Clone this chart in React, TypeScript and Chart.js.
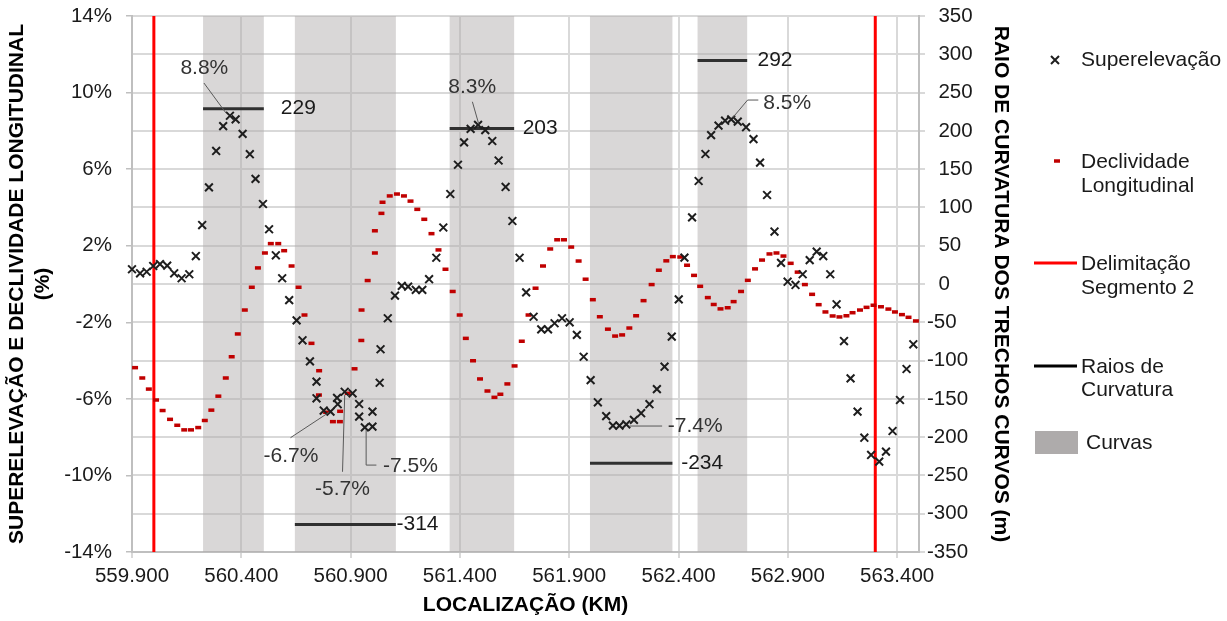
import React, { useEffect, useRef } from "react";
import { Chart, registerables } from "chart.js";

Chart.register(...registerables);

const FONT = '"Liberation Sans", Arial, Helvetica, sans-serif';

// ---------- axes ----------
const xTicks = [559.9, 560.4, 560.9, 561.4, 561.9, 562.4, 562.9, 563.4];
const leftTicks = [-14, -10, -6, -2, 2, 6, 10, 14];

// ---------- Superelevação (%) ----------
const superKm = [
  559.900, 559.937, 559.967, 559.997, 560.028, 560.061, 560.093, 560.127, 560.162, 560.192,
  560.221, 560.252, 560.285, 560.317, 560.348, 560.374, 560.406, 560.439, 560.465, 560.499,
  560.527, 560.558, 560.587, 560.619, 560.653, 560.680, 560.714, 560.744, 560.744, 560.777,
  560.808, 560.838, 560.841, 560.873, 560.909, 560.939, 560.939, 560.965, 561.000, 561.000,
  561.033, 561.037, 561.070, 561.103, 561.134, 561.163, 561.198, 561.228, 561.259, 561.292,
  561.324, 561.356, 561.391, 561.419, 561.449, 561.483, 561.516, 561.548, 561.577, 561.609,
  561.640, 561.673, 561.703, 561.737, 561.772, 561.803, 561.833, 561.867, 561.902, 561.935,
  561.966, 561.998, 562.031, 562.069, 562.100, 562.130, 562.161, 562.196, 562.229, 562.267,
  562.301, 562.336, 562.369, 562.401, 562.427, 562.462, 562.492, 562.523, 562.549, 562.583,
  562.613, 562.641, 562.671, 562.709, 562.743, 562.773, 562.805, 562.839, 562.869, 562.899,
  562.935, 562.968, 563.000, 563.032, 563.062, 563.094, 563.123, 563.157, 563.187, 563.219,
  563.250, 563.281, 563.318, 563.349, 563.379, 563.413, 563.443, 563.474,
];
const superPct = [
  0.77, 0.56, 0.64, 0.94, 1.04, 0.96, 0.56, 0.30, 0.51, 1.46,
  3.08, 5.05, 6.95, 8.25, 8.79, 8.60, 7.84, 6.78, 5.49, 4.18,
  2.86, 1.50, 0.30, -0.84, -1.90, -2.94, -4.04, -5.10, -5.97, -6.61,
  -6.67, -5.95, -6.28, -5.63, -5.71, -6.27, -6.93, -7.49, -7.45, -6.67,
  -5.16, -3.41, -1.79, -0.61, -0.10, -0.14, -0.31, -0.31, 0.25, 1.37,
  2.95, 4.70, 6.23, 7.40, 8.10, 8.31, 8.04, 7.47, 6.45, 5.07,
  3.29, 1.37, -0.44, -1.71, -2.37, -2.37, -2.05, -1.79, -2.00, -2.66,
  -3.80, -5.02, -6.18, -6.90, -7.40, -7.40, -7.33, -7.10, -6.75, -6.28,
  -5.49, -4.32, -2.75, -0.80, 1.38, 3.48, 5.38, 6.79, 7.78, 8.27,
  8.53, 8.60, 8.48, 8.19, 7.57, 6.34, 4.65, 2.74, 1.10, 0.12,
  -0.05, 0.51, 1.25, 1.69, 1.46, 0.51, -1.06, -2.98, -4.93, -6.67,
  -8.03, -8.93, -9.28, -8.76, -7.68, -6.06, -4.44, -3.15,
];

// ---------- Declividade Longitudinal (%) ----------
const declKm = [
  559.914, 559.947, 559.977, 560.010, 560.040, 560.074, 560.107, 560.139, 560.170, 560.203,
  560.233, 560.263, 560.295, 560.329, 560.356, 560.384, 560.416, 560.448, 560.476, 560.508,
  560.535, 560.569, 560.596, 560.630, 560.662, 560.689, 560.721, 560.756, 560.755, 560.788,
  560.819, 560.851, 560.852, 560.887, 560.918, 560.949, 560.950, 560.978, 561.011, 561.011,
  561.041, 561.046, 561.079, 561.112, 561.144, 561.174, 561.205, 561.237, 561.270, 561.302,
  561.334, 561.367, 561.399, 561.427, 561.460, 561.492, 561.526, 561.558, 561.585, 561.617,
  561.650, 561.683, 561.714, 561.746, 561.780, 561.813, 561.845, 561.876, 561.909, 561.943,
  561.975, 562.008, 562.040, 562.077, 562.110, 562.142, 562.175, 562.206, 562.240, 562.277,
  562.310, 562.344, 562.374, 562.408, 562.439, 562.471, 562.499, 562.534, 562.561, 562.592,
  562.625, 562.652, 562.686, 562.717, 562.750, 562.782, 562.816, 562.848, 562.880, 562.913,
  562.945, 562.978, 563.011, 563.041, 563.072, 563.105, 563.136, 563.168, 563.196, 563.230,
  563.260, 563.292, 563.326, 563.360, 563.390, 563.422, 563.452, 563.486,
];
const declPct = [
  -4.37, -4.91, -5.49, -6.06, -6.61, -7.07, -7.38, -7.62, -7.62, -7.50,
  -7.13, -6.59, -5.86, -4.91, -3.80, -2.61, -1.36, -0.17, 0.84, 1.62,
  2.11, 2.11, 1.74, 0.94, -0.17, -1.62, -3.10, -4.53, -5.80, -6.70,
  -7.19, -7.19, -6.65, -5.71, -4.43, -2.95, -1.36, 0.18, 1.62, 2.78,
  3.69, 4.27, 4.60, 4.70, 4.60, 4.33, 3.90, 3.38, 2.63, 1.78,
  0.77, -0.39, -1.62, -2.84, -4.01, -4.96, -5.59, -5.92, -5.76, -5.22,
  -4.28, -2.99, -1.62, -0.22, 0.94, 1.83, 2.31, 2.31, 1.93, 1.20,
  0.25, -0.82, -1.71, -2.36, -2.72, -2.66, -2.30, -1.66, -0.87, -0.03,
  0.72, 1.21, 1.43, 1.41, 0.98, 0.45, -0.12, -0.71, -1.07, -1.30,
  -1.24, -0.92, -0.39, 0.19, 0.79, 1.25, 1.57, 1.62, 1.46, 1.08,
  0.62, -0.03, -0.54, -1.08, -1.46, -1.67, -1.72, -1.66, -1.50, -1.36,
  -1.22, -1.11, -1.19, -1.31, -1.46, -1.60, -1.74, -1.93,
];

// ---------- Delimitação Segmento 2 (km) ----------
const segmentLimits = [560.0, 563.3];

// ---------- Curvas & Raios de Curvatura ----------
const curveStart = [560.225, 560.645, 561.353, 561.995, 562.487];
const curveEnd = [560.503, 561.107, 561.648, 562.372, 562.714];
const curveRadius = [229, -314, 203, -234, 292];
const radiusLabelKm = [560.581, 561.110, 561.687, 562.412, 562.761];

// ---------- peak labels (data units: km, %) ----------
const peakText = ["8.8%", "8.3%", "8.5%", "-6.7%", "-5.7%", "-7.5%", "-7.4%"];
const peakTextKm = [560.231, 561.456, 562.788, 560.627, 560.863, 561.048, 562.351];
const peakTextPct = [11.28, 10.28, 9.44, -8.97, -10.72, -9.54, -7.45];
const peakAlign = ["center", "center", "left", "center", "center", "left", "left"];
const peakLeaders = [
  [[560.229, 10.5], [560.33, 8.93]],
  [[561.457, 9.52], [561.486, 8.36]],
  [[562.765, 9.61], [562.716, 9.61], [562.648, 8.69]],
  [[560.625, -8.03], [560.802, -6.7]],
  [[560.863, -9.81], [560.873, -5.8]],
  [[561.018, -9.46], [560.971, -9.46], [560.971, -7.63]],
  [[562.176, -7.42], [562.325, -7.42]],
];

const customPlugin = {
  id: "customDraw",
  beforeDatasetsDraw(chart: any) {
    const { ctx, chartArea: a, scales } = chart;
    const xs = scales.x;
    ctx.save();
    ctx.fillStyle = "rgba(174,171,171,0.47)";
    curveStart.forEach((s, i) => {
      const x0 = xs.getPixelForValue(s);
      const x1 = xs.getPixelForValue(curveEnd[i]);
      ctx.fillRect(x0, a.top, x1 - x0, a.bottom - a.top);
    });
    ctx.restore();
  },
  afterDraw(chart: any) {
    const { ctx, scales } = chart;
    const xs = scales.x;
    const ys = scales.y;
    const y2 = scales.y2;
    ctx.save();
    // leaders
    ctx.strokeStyle = "#595959";
    ctx.lineWidth = 1;
    peakLeaders.forEach((pts) => {
      ctx.beginPath();
      pts.forEach((p, j) => {
        const px = xs.getPixelForValue(p[0]);
        const py = ys.getPixelForValue(p[1]);
        if (j === 0) ctx.moveTo(px, py);
        else ctx.lineTo(px, py);
      });
      ctx.stroke();
    });
    // peak labels
    ctx.font = `21px ${FONT}`;
    ctx.fillStyle = "#333333";
    ctx.textBaseline = "middle";
    peakText.forEach((t, i) => {
      ctx.textAlign = peakAlign[i] as CanvasTextAlign;
      ctx.fillText(t, xs.getPixelForValue(peakTextKm[i]), ys.getPixelForValue(peakTextPct[i]));
    });
    // radius labels
    ctx.fillStyle = "#1a1a1a";
    ctx.textAlign = "left";
    curveRadius.forEach((r, i) => {
      ctx.fillText(String(r), xs.getPixelForValue(radiusLabelKm[i]), y2.getPixelForValue(r));
    });

    // legend
    ctx.fillStyle = "#1a1a1a";
    ctx.font = `21px ${FONT}`;
    ctx.textAlign = "left";
    ctx.strokeStyle = "#1e1e1e";
    ctx.lineWidth = 2;
    ctx.beginPath();
    ctx.moveTo(1051, 56); ctx.lineTo(1059, 64);
    ctx.moveTo(1059, 56); ctx.lineTo(1051, 64);
    ctx.stroke();
    ctx.fillText("Superelevação", 1081, 60);
    ctx.strokeStyle = "#c00000";
    ctx.lineWidth = 3.5;
    ctx.beginPath();
    ctx.moveTo(1054, 161); ctx.lineTo(1060, 161);
    ctx.stroke();
    ctx.fillText("Declividade", 1081, 162);
    ctx.fillText("Longitudinal", 1081, 186);
    ctx.strokeStyle = "#ff0000";
    ctx.lineWidth = 3;
    ctx.beginPath();
    ctx.moveTo(1034, 263); ctx.lineTo(1077, 263);
    ctx.stroke();
    ctx.fillText("Delimitação", 1081, 264);
    ctx.fillText("Segmento 2", 1081, 288);
    ctx.strokeStyle = "#000000";
    ctx.lineWidth = 3;
    ctx.beginPath();
    ctx.moveTo(1034, 366); ctx.lineTo(1077, 366);
    ctx.stroke();
    ctx.fillText("Raios de", 1081, 367);
    ctx.fillText("Curvatura", 1081, 390);
    ctx.fillStyle = "#aeabab";
    ctx.fillRect(1035, 431, 43, 23);
    ctx.fillStyle = "#1a1a1a";
    ctx.fillText("Curvas", 1086, 443);
    ctx.restore();
  },
};

export default function App() {
  const ref = useRef<HTMLCanvasElement | null>(null);

  useEffect(() => {
    document.body.style.margin = "0";
    const canvas = ref.current;
    if (!canvas) return;

    const superData = superKm.map((x, i) => ({ x, y: superPct[i] }));
    const declData = declKm.map((x, i) => ({ x, y: declPct[i] }));

    const datasets: any[] = [
      {
        label: "Superelevação",
        data: superData,
        yAxisID: "y",
        pointStyle: "crossRot",
        pointRadius: 5.5,
        pointBorderWidth: 2,
        borderColor: "#1e1e1e",
        backgroundColor: "#1e1e1e",
        showLine: false,
        order: 0,
        clip: false,
      },
      {
        label: "Declividade Longitudinal",
        data: declData,
        yAxisID: "y",
        pointStyle: "line",
        pointRadius: 3,
        pointBorderWidth: 3.5,
        borderColor: "#c00000",
        backgroundColor: "#c00000",
        showLine: false,
        order: 1,
        clip: false,
      },
      ...segmentLimits.map((km) => ({
        label: "Delimitação Segmento 2",
        data: [{ x: km, y: -14 }, { x: km, y: 14 }],
        yAxisID: "y",
        showLine: true,
        borderColor: "#ff0000",
        borderWidth: 3,
        pointRadius: 0,
        order: 3,
      })),
      ...curveRadius.map((r, i) => ({
        label: "Raios de Curvatura",
        data: [{ x: curveStart[i], y: r }, { x: curveEnd[i], y: r }],
        yAxisID: "y2",
        showLine: true,
        borderColor: "#303030",
        borderWidth: 3,
        pointRadius: 0,
        order: 2,
      })),
    ];

    const tickFont = { family: FONT, size: 20.5 };
    const titleFont = { family: FONT, size: 21, weight: "bold" as const };

    const chart = new Chart(canvas, {
      type: "scatter",
      data: { datasets },
      options: {
        animation: false,
        responsive: false,
        devicePixelRatio: 1,
        events: [],
        layout: { padding: { left: 0, right: 212, top: 16, bottom: 0 } },
        plugins: { legend: { display: false }, tooltip: { enabled: false } },
        scales: {
          x: {
            type: "linear",
            min: 559.9,
            max: 563.5,
            afterBuildTicks: (s: any) => {
              s.ticks = xTicks.map((v) => ({ value: v }));
            },
            afterFit: (s: any) => {
              s.height = 69;
            },
            ticks: {
              callback: (v: any) => Number(v).toFixed(3),
              font: tickFont,
              color: "#1a1a1a",
              padding: 6,
              maxRotation: 0,
              autoSkip: false,
            },
            grid: { color: "#d9d9d9", lineWidth: 2, tickLength: 6 },
            border: { color: "#bfbfbf", width: 2 },
            title: {
              display: true,
              text: "LOCALIZAÇÃO (KM)",
              font: titleFont,
              color: "#000000",
              padding: { top: 0, bottom: 3 },
            },
          },
          y: {
            type: "linear",
            position: "left",
            min: -14,
            max: 14,
            afterBuildTicks: (s: any) => {
              s.ticks = leftTicks.map((v) => ({ value: v }));
            },
            afterFit: (s: any) => {
              s.width = 132;
              s.paddingTop = 10;
              s.paddingBottom = 10;
            },
            ticks: {
              callback: (v: any) => `${v}%`,
              font: tickFont,
              color: "#1a1a1a",
              padding: 14,
            },
            grid: { drawOnChartArea: false, color: "#bfbfbf", tickLength: 6, lineWidth: 1.5 },
            border: { color: "#bfbfbf", width: 2 },
            title: {
              display: true,
              text: ["SUPERELEVAÇÃO E DECLIVIDADE LONGITUDINAL", "(%)"],
              font: titleFont,
              color: "#000000",
              padding: { top: 5, bottom: 0 },
            },
          },
          y2: {
            type: "linear",
            position: "right",
            min: -350,
            max: 350,
            afterFit: (s: any) => {
              s.width = 96;
              s.paddingTop = 10;
              s.paddingBottom = 10;
            },
            ticks: {
              stepSize: 50,
              callback: (v: any) => (Number(v) < 0 ? String(v) : `  ${v}`),
              font: tickFont,
              color: "#1a1a1a",
              padding: 2,
            },
            grid: { color: "#d9d9d9", lineWidth: 2, tickLength: 6 },
            border: { color: "#bfbfbf", width: 2 },
            title: {
              display: true,
              text: "RAIO DE CURVATURA DOS TRECHOS CURVOS (m)",
              font: titleFont,
              color: "#000000",
              padding: { top: 2, bottom: 0 },
            },
          },
        },
      } as any,
      plugins: [customPlugin],
    });

    return () => chart.destroy();
  }, []);

  return (
    <div style={{ position: "fixed", left: 0, top: 0, width: 1227, height: 621, background: "#fff" }}>
      <canvas ref={ref} width={1227} height={621} style={{ display: "block", width: 1227, height: 621 }} />
    </div>
  );
}
